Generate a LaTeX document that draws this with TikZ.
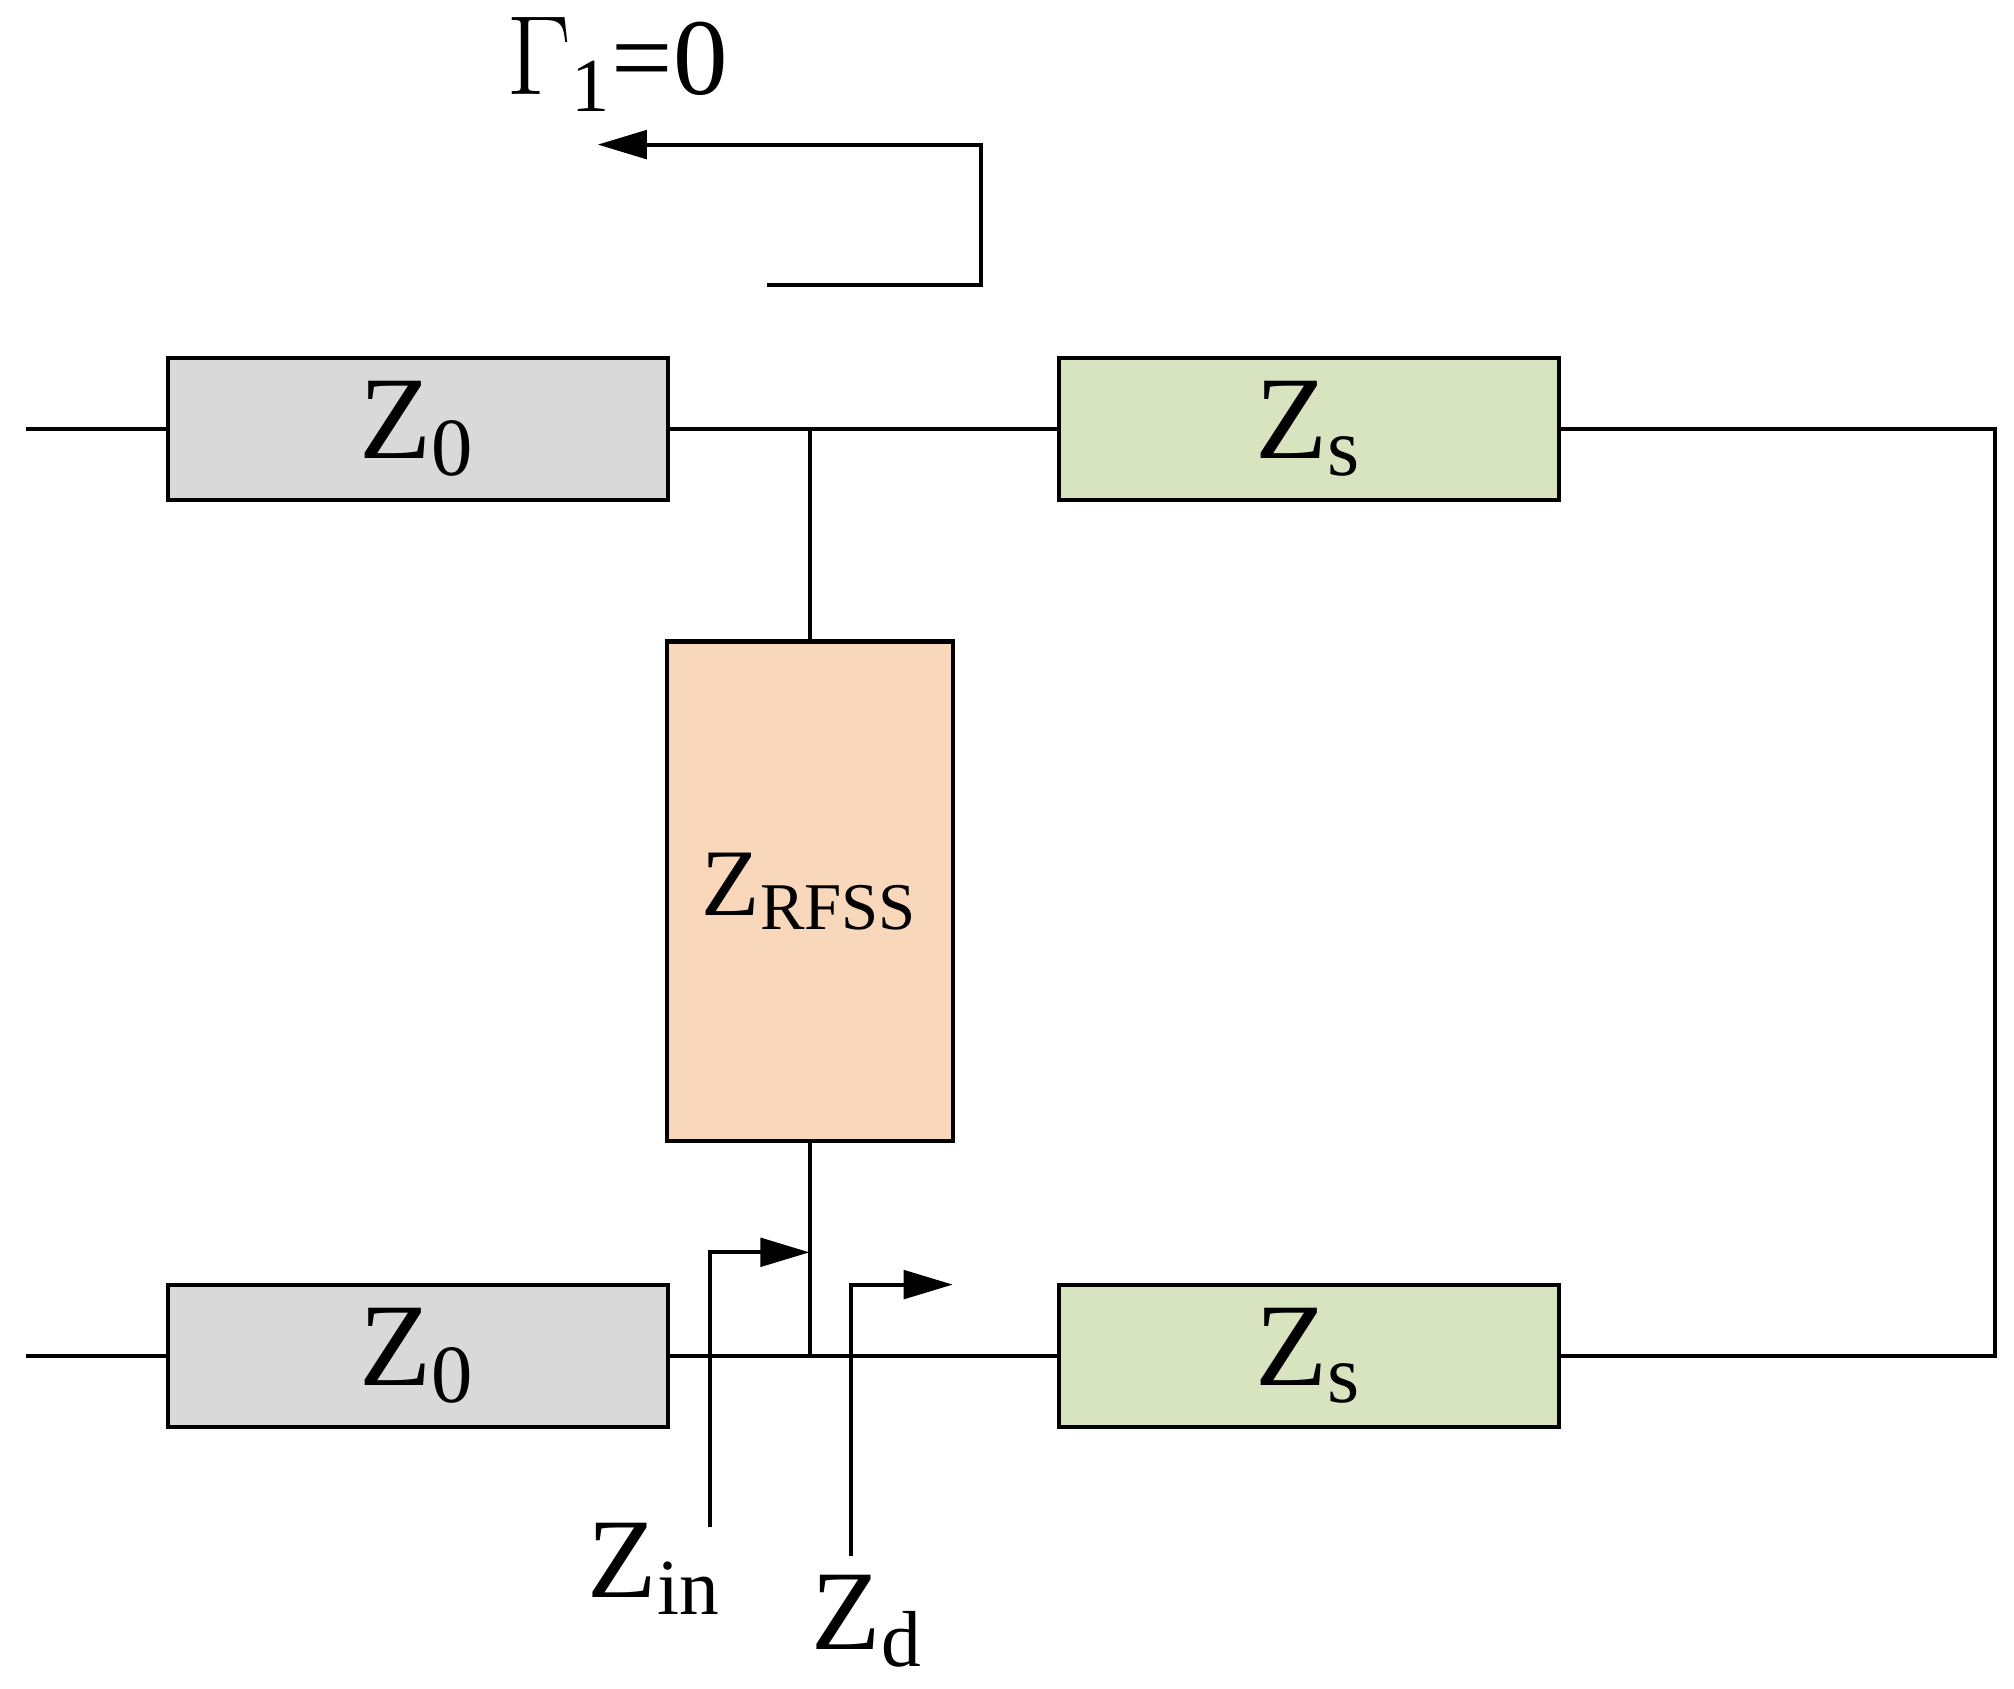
\documentclass[tikz,border=0pt]{standalone}
\usepackage{fontspec}
\setmainfont{Liberation Serif}
\usetikzlibrary{arrows.meta}
\begin{document}
\begin{tikzpicture}[x=0.01cm,y=-0.01cm,
  box/.style={draw,line width=0.9pt,minimum width=3.87cm,minimum height=1.10cm,inner sep=0pt},
  ln/.style={line width=0.9pt},
  arr/.style={ln,-{Triangle[length=0.38cm,width=0.22cm]}},
  big/.style={font=\fontsize{26}{30}\selectfont}]
\useasboundingbox (0,0) rectangle (1560,1308);
\definecolor{gz}{HTML}{D9D9D9}\definecolor{gs}{HTML}{D8E4BF}\definecolor{or}{HTML}{F9D7BB}
\node[box,fill=gz,big] (a) at (323.5,332) {Z\textsubscript{0}};
\node[box,fill=gs,big] (b) at (1014,332) {Z\textsubscript{s}};
\node[box,fill=gz,big] (c) at (323.5,1050) {Z\textsubscript{0}};
\node[box,fill=gs,big] (d) at (1014,1050) {Z\textsubscript{s}};
\node[draw,line width=0.9pt,fill=or,minimum width=2.21cm,minimum height=3.87cm,inner sep=0pt,font=\fontsize{21}{24}\selectfont] (r) at (627.5,690.5) {Z\textsubscript{RFSS}};
\coordinate (l1) at (20,332); \coordinate (l2) at (20,1050);
\coordinate (j1) at (627.5,332); \coordinate (j2) at (627.5,1050);
\coordinate (e1) at (1545,332); \coordinate (e2) at (1545,1050);
\draw[ln] (l1) -- (a.west); \draw[ln] (a.east) -- (b.west);
\draw[ln] (l2) -- (c.west); \draw[ln] (c.east) -- (d.west);
\draw[ln] (b.east) -- (e1) -- (e2) -- (d.east);
\draw[ln] (j1) -- (r.north); \draw[ln] (r.south) -- (j2);
\coordinate (g0) at (594,221); \coordinate (g1) at (760,221); \coordinate (g2) at (760,112); \coordinate (g3) at (463,112);
\draw[arr] (g0) -- (g1) -- (g2) -- (g3);
\node[font=\fontsize{24}{28}\selectfont] (gl) at (478,50) {$\Gamma$\textsubscript{1}=0};
\coordinate (z0) at (550,1183); \coordinate (z1) at (550,970); \coordinate (z2) at (627,970);
\draw[arr] (z0) -- (z1) -- (z2);
\coordinate (d0) at (659,1205); \coordinate (d1) at (659,995); \coordinate (d2) at (738,995);
\draw[arr] (d0) -- (d1) -- (d2);
\node[font=\fontsize{25}{28}\selectfont] (zin) at (507,1215) {Z\textsubscript{in}};
\node[font=\fontsize{25}{28}\selectfont] (zd) at (672,1256) {Z\textsubscript{d}};
\end{tikzpicture}
\end{document}
